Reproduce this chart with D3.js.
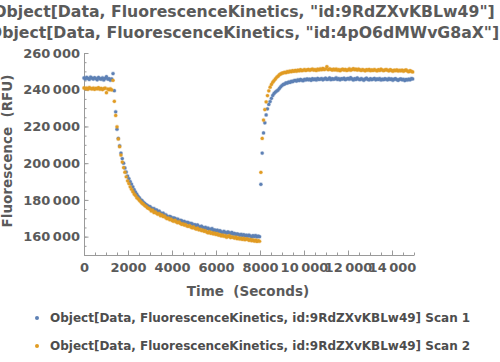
<!DOCTYPE html>
<html>
<head>
<meta charset="utf-8">
<script src="https://cdn.jsdelivr.net/npm/d3@7"></script>
<style>
  body { margin: 0; background: #fff; }
  svg text { font-family: "DejaVu Sans", sans-serif; font-weight: bold; }
</style>
</head>
<body>
<div id="chart"></div>
<script>
// Sampling of the kinetics read: one point every 60 s starting at 0 s
const sampleStart = 0;
const sampleStep = 60;

const titleLines = [
    'Object[Data, FluorescenceKinetics, "id:9RdZXvKBLw49"]',
    'Object[Data, FluorescenceKinetics, "id:4pO6dMWvG8aX"]'
];
const seriesNames = [
    'Object[Data, FluorescenceKinetics, id:9RdZXvKBLw49] Scan 1',
    'Object[Data, FluorescenceKinetics, id:9RdZXvKBLw49] Scan 2'
];

// fluorescence in thousands of RFU
const scan1 = [
    246.4, 245.9, 246.8, 246.2, 245.6, 246.9, 246.3, 245.8, 246.6, 246.1,
    245.4, 246.7, 246.0, 245.7, 246.5, 245.3, 246.2, 247.1, 245.8, 246.0,
    245.2, 245.9, 248.8, 239.5, 228.0, 218.5, 213.5, 209.5, 205.5, 202.5,
    200.0, 197.4, 195.2, 193.0, 191.6, 190.0, 188.6, 187.1, 185.6, 184.3,
    183.1, 181.9, 181.1, 180.1, 179.6, 178.7, 178.1, 177.4, 177.0, 176.4,
    176.3, 175.6, 175.0, 175.3, 174.2, 174.6, 173.4, 173.9, 172.9, 172.4,
    172.8, 171.6, 171.9, 171.1, 170.5, 171.0, 170.6, 169.7, 170.2, 169.9,
    169.2, 169.6, 168.5, 168.9, 168.7, 167.9, 168.3, 167.4, 167.8, 167.6,
    166.8, 167.3, 166.9, 166.1, 166.5, 165.8, 166.4, 165.5, 165.2, 165.7,
    165.0, 164.5, 165.1, 164.3, 164.7, 163.8, 164.0, 164.4, 163.4, 163.7,
    163.1, 163.5, 162.8, 163.3, 162.5, 162.2, 162.9, 162.3, 161.9, 162.6,
    162.1, 161.6, 162.3, 161.4, 161.8, 161.0, 161.5, 161.2, 160.7, 161.3,
    160.6, 161.1, 160.4, 160.8, 160.2, 160.9, 160.3, 159.8, 160.5, 160.1,
    160.6, 159.9, 160.3, 160.0, 188.5, 205.5, 216.5, 222.0, 226.3, 229.6,
    232.0, 233.6, 235.3, 236.9, 238.0, 238.7, 239.3, 239.8, 240.7, 241.6,
    242.3, 242.9, 243.1, 243.7, 243.6, 244.2, 244.0, 244.6, 244.4, 244.9,
    245.1, 244.7, 245.4, 245.0, 245.6, 245.2, 244.9, 245.7, 245.3, 245.9,
    245.4, 245.8, 245.1, 246.0, 245.5, 245.9, 245.3, 246.2, 245.6, 245.8,
    246.1, 245.4, 245.9, 246.3, 245.6, 245.8, 246.4, 245.5, 246.0, 245.7,
    245.9, 246.5, 245.6, 246.1, 245.4, 246.0, 245.8, 246.3, 245.5, 245.9,
    246.2, 245.7, 246.6, 245.9, 245.3, 246.0, 245.6, 246.4, 245.8, 245.5,
    246.1, 245.7, 245.2, 245.9, 246.3, 245.6, 245.4, 246.0, 245.5, 245.8,
    246.2, 245.4, 245.9, 245.6, 246.1, 245.3, 245.8, 245.5, 246.0, 245.7,
    245.4, 246.1, 245.6, 245.9, 245.2, 245.8, 246.0, 245.5, 245.1, 245.7,
    245.9, 245.4, 245.7, 245.0, 245.6, 245.3, 245.8, 245.4, 246.1, 245.9
];
const scan2 = [
    241.0, 240.6, 240.9, 240.3, 241.2, 240.7, 240.4, 240.9, 240.2, 240.8,
    240.5, 241.1, 240.3, 240.7, 240.1, 240.6, 240.9, 238.4, 240.4, 240.0,
    240.5, 239.9, 245.1, 233.7, 226.0, 219.8, 213.2, 209.0, 204.4, 200.6,
    197.6, 195.1, 192.6, 190.4, 188.9, 187.1, 185.8, 184.5, 183.2, 182.4,
    181.2, 180.6, 179.7, 179.0, 178.2, 177.7, 176.9, 176.5, 175.7, 175.4,
    174.9, 174.0, 174.4, 173.1, 173.5, 172.7, 172.2, 172.6, 171.4, 171.8,
    170.9, 171.2, 170.3, 169.8, 170.1, 169.2, 169.5, 168.7, 168.4, 168.9,
    168.0, 167.6, 168.1, 167.2, 166.7, 167.0, 166.3, 166.6, 165.8, 165.6,
    166.0, 165.2, 164.8, 165.3, 164.5, 164.1, 164.6, 163.7, 164.0, 163.3,
    163.6, 162.9, 163.2, 162.5, 162.1, 162.7, 161.8, 162.2, 161.5, 161.9,
    161.2, 161.6, 160.8, 161.1, 160.4, 160.9, 160.2, 160.6, 159.7, 160.1,
    160.5, 159.5, 159.9, 159.6, 159.2, 159.8, 158.9, 159.4, 158.7, 159.1,
    158.5, 159.0, 158.3, 158.8, 158.6, 158.0, 158.5, 157.8, 158.3, 157.6,
    158.1, 157.4, 157.9, 157.5, 195.0, 213.5, 223.5, 229.2, 233.4, 236.8,
    239.4, 241.4, 242.9, 244.1, 245.0, 245.9, 246.8, 247.4, 248.2, 248.6,
    249.0, 249.2, 249.5, 249.3, 249.9, 249.6, 250.2, 249.8, 250.4, 250.0,
    250.5, 250.1, 250.7, 250.3, 250.9, 250.4, 250.6, 251.0, 250.5, 250.8,
    251.1, 250.6, 250.9, 251.3, 250.7, 251.0, 250.5, 251.2, 250.8, 251.4,
    250.9, 251.6, 251.0, 251.3, 252.6, 250.9, 251.4, 251.1, 250.7, 251.2,
    250.8, 251.3, 250.6, 251.0, 250.4, 250.9, 251.2, 250.7, 251.1, 250.5,
    250.8, 251.4, 250.6, 251.0, 251.5, 250.9, 251.2, 250.7, 251.3, 250.8,
    250.5, 251.0, 250.7, 250.3, 250.9, 250.6, 251.1, 250.4, 250.8, 250.5,
    251.0, 250.6, 250.3, 250.9, 250.5, 251.2, 250.7, 250.4, 250.8, 251.0,
    250.6, 250.3, 250.9, 250.5, 250.1, 250.7, 250.4, 250.8, 250.2, 250.6,
    250.3, 250.7, 250.1, 250.5, 250.8, 250.2, 249.8, 250.4, 250.0, 249.7
];
const colors = ['#5e81b5', '#e19c24'];

const xDomain = [0, 15000];
const yDomain = [150, 260];
const xMajor = [0, 2000, 4000, 6000, 8000, 10000, 12000, 14000];
const yMajor = [160, 180, 200, 220, 240, 260];

const width = 500, height = 362;
const svg = d3.select('#chart').append('svg')
    .attr('width', width)
    .attr('height', height);

const x = d3.scaleLinear().domain(xDomain).range([84, 414]);
const y = d3.scaleLinear().domain(yDomain).range([255, 53]);

// Mathematica style number: group digits only from 5 digits on
function fmtNum(v) {
    const s = String(Math.round(v));
    if (s.length < 5) return s;
    return s.replace(/\B(?=(\d{3})+(?!\d))/g, '\u2009');
}

const axisColor = '#9a9a9a';
const textColor = '#5a5a5a';

// minor ticks
svg.append('g')
    .attr('transform', `translate(0,${y.range()[0]})`)
    .call(d3.axisBottom(x).ticks(30).tickSizeInner(-2.5).tickSizeOuter(0).tickFormat(''))
    .call(g => g.select('.domain').remove());
svg.append('g')
    .attr('transform', `translate(${x.range()[0]},0)`)
    .call(d3.axisLeft(y).ticks(22).tickSizeInner(-2.5).tickSizeOuter(0).tickFormat(''))
    .call(g => g.select('.domain').remove());

// major ticks + axis lines
svg.append('g')
    .attr('transform', `translate(0,${y.range()[0]})`)
    .call(d3.axisBottom(x).tickValues(xMajor).tickSizeInner(-4.5).tickSizeOuter(0)
        .tickPadding(8).tickFormat(fmtNum));
svg.append('g')
    .attr('transform', `translate(${x.range()[0]},0)`)
    .call(d3.axisLeft(y).tickValues(yMajor).tickSizeInner(-4.5).tickSizeOuter(0)
        .tickPadding(4).tickFormat(d => fmtNum(d * 1000)));

svg.selectAll('.tick line, .domain').attr('stroke', axisColor);
svg.selectAll('.tick text')
    .attr('fill', textColor)
    .style('font-size', '13px')
    .style('font-family', '"DejaVu Sans", sans-serif')
    .style('font-weight', 'bold');

// axis titles
svg.append('text')
    .attr('x', 248).attr('y', 296)
    .attr('text-anchor', 'middle')
    .attr('fill', textColor)
    .style('font-size', '13.5px')
    .text('Time\u00a0\u00a0(Seconds)');
svg.append('text')
    .attr('transform', 'translate(12,151) rotate(-90)')
    .attr('text-anchor', 'middle')
    .attr('fill', textColor)
    .style('font-size', '13.5px')
    .text('Fluorescence\u00a0\u00a0(RFU)');

// plot title
svg.selectAll('.title')
    .data(titleLines)
    .enter().append('text')
    .attr('class', 'title')
    .attr('x', 244)
    .attr('y', (d, i) => 17 + i * 21)
    .attr('text-anchor', 'middle')
    .attr('fill', textColor)
    .style('font-size', '15.7px')
    .text(d => d);

// points
const series = [scan1, scan2];
series.forEach((vals, s) => {
    svg.append('g')
        .selectAll('circle')
        .data(vals)
        .enter().append('circle')
        .attr('cx', (d, i) => x(sampleStart + i * sampleStep))
        .attr('cy', d => y(d))
        .attr('r', 1.6)
        .attr('fill', colors[s])
        .attr('stroke', colors[s])
        .attr('stroke-opacity', 0.3)
        .attr('stroke-width', 1.2);
});

// legend
const legend = svg.append('g');
seriesNames.forEach((name, i) => {
    const row = legend.append('g').attr('transform', `translate(37,${318 + i * 28})`);
    row.append('circle').attr('r', 2).attr('fill', colors[i]);
    row.append('text')
        .attr('x', 13).attr('y', 4)
        .attr('fill', '#4d4d4d')
        .style('font-size', '12px')
        .text(name);
});
</script>
</body>
</html>
